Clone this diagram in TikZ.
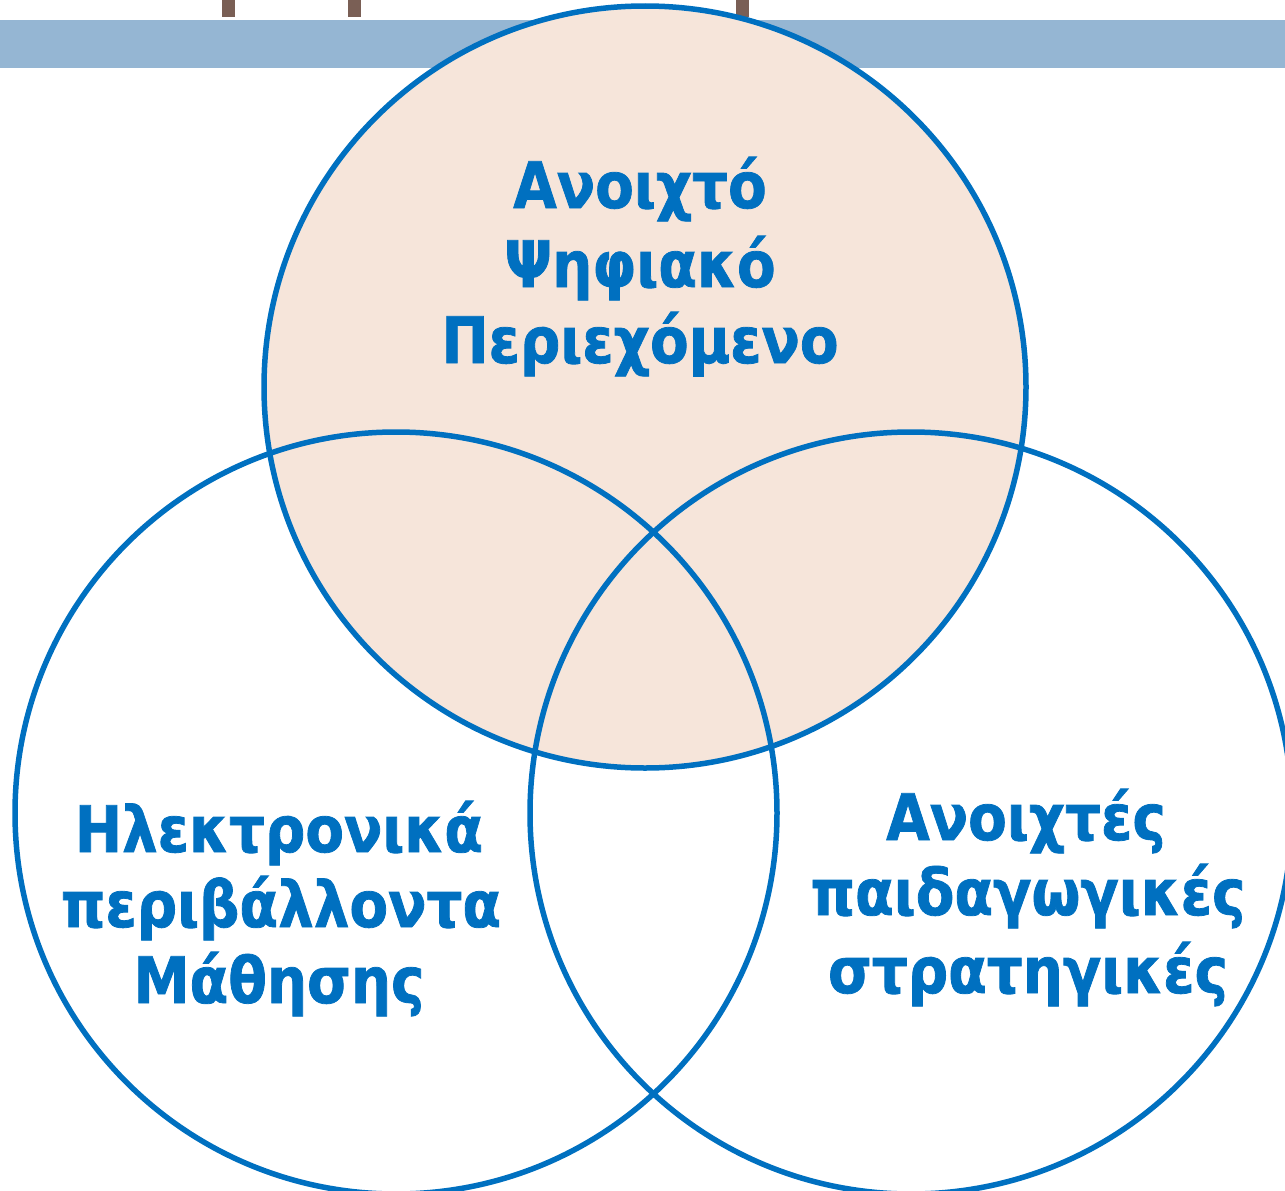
\documentclass[tikz,border=0pt]{standalone}
\usepackage{fontspec}
\setmainfont{DejaVu Sans}
\newfontfamily\lblfont{DejaVu Sans Bold}[FakeStretch=0.88, FakeBold=1.2]
\definecolor{cblue}{HTML}{0070C0}
\definecolor{cfill}{HTML}{F6E5DA}
\definecolor{cbar}{HTML}{95B6D3}
\definecolor{ctick}{HTML}{7A5F55}
\tikzset{
  ring/.style={circle, draw=cblue, line width=5.5pt, minimum size=762pt, inner sep=0pt},
  lbl/.style={text=cblue, font=\lblfont\fontsize{64}{77}\selectfont, anchor=base, inner sep=0pt}
}
\begin{document}
\begin{tikzpicture}[x=1pt,y=-1pt]
\useasboundingbox (0,0) rectangle (1285,1191);
\clip (0,0) rectangle (1285,1191);
\fill[cbar] (0,20) rectangle (1285,68);
\fill[ctick] (222,0) rectangle (235,17);
\fill[ctick] (348,0) rectangle (361,17);
\fill[ctick] (736,0) rectangle (749,17);
\node[ring, fill=cfill] (top) at (645,387) {};
\node[ring] (left) at (396,813) {};
\node[ring] (right) at (911,813) {};
\node[lbl] (t1) at (640,208) {Ανοιχτό};
\node[lbl] (t2) at (640,287) {Ψηφιακό};
\node[lbl] (t3) at (640,363) {Περιεχόμενο};
\node[lbl] (l1) at (279,852) {Ηλεκτρονικά};
\node[lbl] (l2) at (281,927) {περιβάλλοντα};
\node[lbl] (l3) at (279,1003) {Μάθησης};
\node[lbl] (r1) at (1026,840) {Ανοιχτές};
\node[lbl] (r2) at (1028,915) {παιδαγωγικές};
\node[lbl] (r3) at (1028,993) {στρατηγικές};
\end{tikzpicture}
\end{document}
